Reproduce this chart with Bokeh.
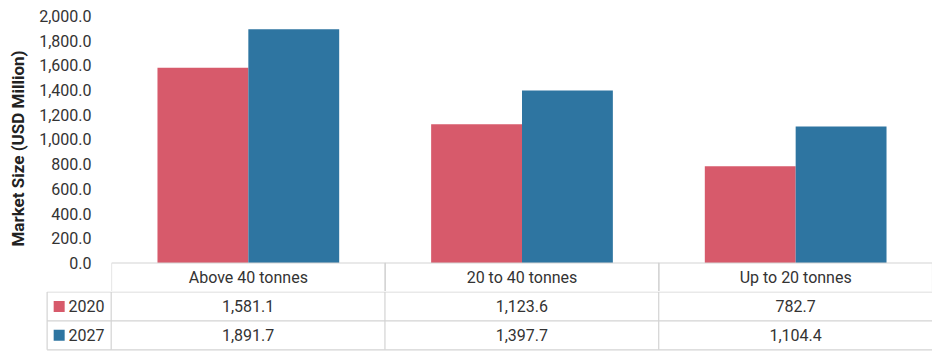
from bokeh.plotting import figure
from bokeh.models import ColumnDataSource, FactorRange, Range1d, FixedTicker, NumeralTickFormatter
from bokeh.transform import dodge
from bokeh.layouts import column
from bokeh.core.properties import value
from bokeh.embed import file_html
from bokeh.resources import INLINE

# ---- data ----
categories = ["Above 40 tonnes", "20 to 40 tonnes", "Up to 20 tonnes"]
years = ["2020", "2027"]
values_2020 = [1581.1, 1123.6, 782.7]
values_2027 = [1891.7, 1397.7, 1104.4]
y_ticks = [0, 200, 400, 600, 800, 1000, 1200, 1400, 1600, 1800, 2000]
y_title = "Market Size (USD Million)"

# ---- styles ----
colors = {"2020": "#d75a6b", "2027": "#2e75a1"}
grid_color = "#d3d3d3"
text_color = "#333333"
font = value("Roboto")

src = ColumnDataSource(dict(cat=categories, v2020=values_2020, v2027=values_2027))

# ---- chart part (bars + header row) ----
p = figure(width=932, height=291,
           x_range=FactorRange(factors=categories, range_padding=0, factor_padding=0),
           y_range=Range1d(-230.8, 2085),
           output_backend="svg", toolbar_location=None,
           min_border_left=111, min_border_right=0, min_border_top=5, min_border_bottom=0)
p.frame_align = False
p.xaxis.visible = False
p.grid.visible = False
p.outline_line_color = None
p.background_fill_color = "white"
p.border_fill_color = "white"

bw = 0.332
p.vbar(x=dodge("cat", -bw / 2, range=p.x_range), top="v2020", width=bw, bottom=0,
       source=src, fill_color=colors["2020"], line_color=None)
p.vbar(x=dodge("cat", bw / 2, range=p.x_range), top="v2027", width=bw, bottom=0,
       source=src, fill_color=colors["2027"], line_color=None)

# header cells
p.rect(x=categories, y=[-200] * 3, width=1, height=400, fill_color=None,
       line_color=grid_color, line_width=1.2)
p.text(x=categories, y=[-115.4] * 3, text=categories, text_align="center",
       text_baseline="middle", text_font=font, text_font_size="16px", text_color=text_color)

ya = p.yaxis[0]
ya.ticker = FixedTicker(ticks=y_ticks)
ya.formatter = NumeralTickFormatter(format="0,0.0")
ya.axis_line_color = None
ya.major_tick_line_color = None
ya.minor_tick_line_color = None
ya.major_label_standoff = 14
ya.major_label_text_font = "Roboto"
ya.major_label_text_font_size = "16px"
ya.major_label_text_color = text_color
ya.axis_label = y_title
ya.axis_label_text_font = "Roboto"
ya.axis_label_text_font_style = "bold"
ya.axis_label_text_font_size = "17px"
ya.axis_label_text_color = "#222222"
ya.axis_label_standoff = 8

# ---- table part ----
t = figure(width=932, height=61,
           x_range=Range1d(-0.4043, 3.0), y_range=Range1d(-2.093, 0.017),
           output_backend="svg", toolbar_location=None,
           x_axis_location=None, y_axis_location=None,
           min_border_left=0, min_border_right=0, min_border_top=0, min_border_bottom=0)
t.frame_align = False
t.grid.visible = False
t.outline_line_color = None
t.background_fill_color = "white"
t.border_fill_color = "white"

left_edge = -0.234
n = len(categories)
# horizontal lines
t.segment(x0=[left_edge] * 3, y0=[0, -1, -2], x1=[n] * 3, y1=[0, -1, -2],
          line_color=grid_color, line_width=1.2)
# vertical lines
vx = [left_edge] + list(range(n))
t.segment(x0=vx, y0=[0] * len(vx), x1=vx, y1=[-2] * len(vx),
          line_color=grid_color, line_width=1.2)

row_vals = {"2020": values_2020, "2027": values_2027}
for i, yr in enumerate(years):
    yc = -0.5 - i
    t.scatter(x=[left_edge + 0.044], y=[yc], marker="square", size=11,
              fill_color=colors[yr], line_color=None)
    t.text(x=[left_edge + 0.078], y=[yc], text=[yr], text_align="left",
           text_baseline="middle", text_font=font, text_font_size="16px", text_color=text_color)
    t.text(x=[j + 0.5 for j in range(n)], y=[yc] * n,
           text=["{:,.1f}".format(v) for v in row_vals[yr]], text_align="center",
           text_baseline="middle", text_font=font, text_font_size="16px", text_color=text_color)

layout = column(p, t, spacing=0)
open("out.html", "w").write(file_html(layout, INLINE))
